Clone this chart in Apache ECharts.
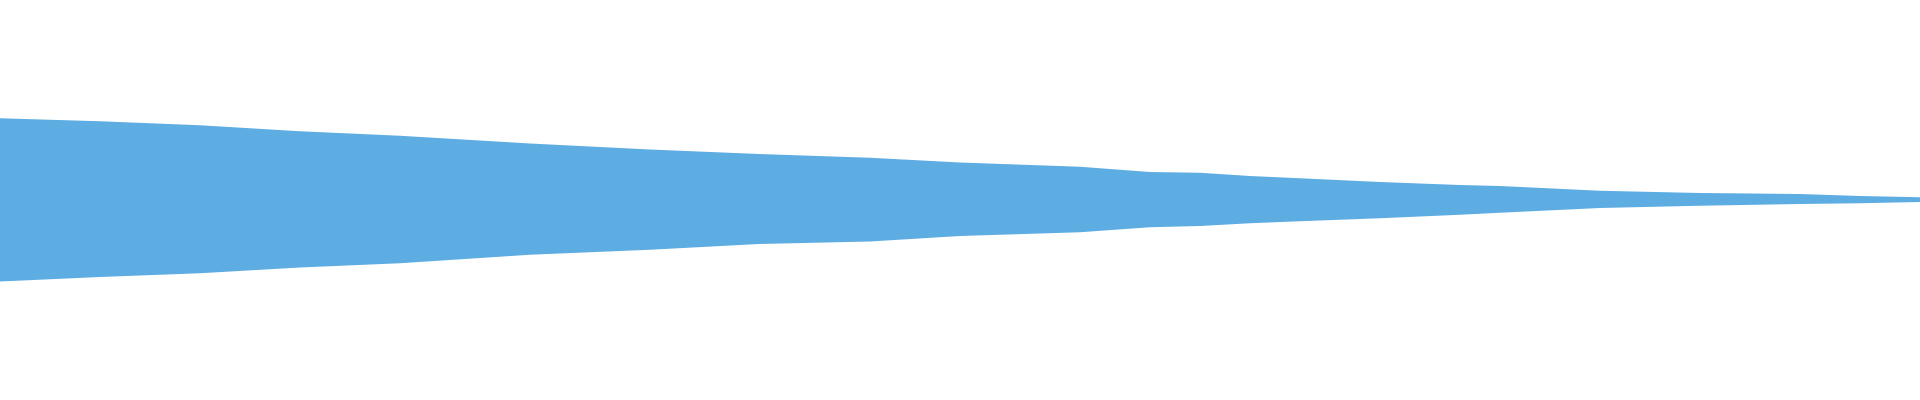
<!DOCTYPE html>
<html>
<head>
<meta charset="utf-8">
<script src="https://cdn.jsdelivr.net/npm/echarts@6/dist/echarts.min.js"></script>
<style>
html,body{margin:0;padding:0;background:#fff;}
#chart{width:1920px;height:400px;}
</style>
</head>
<body>
<div id="chart"></div>
<script>
// Sample positions along the waveform and its read upper / lower envelope
var xs    = [0, 100, 200, 300, 400, 530, 650, 759, 870, 960, 1080, 1150, 1200, 1250, 1300, 1380, 1460, 1500, 1600, 1700, 1800, 1860, 1920];
var upper = [81.5, 78.5, 74.5, 68.5, 63.8, 56.2, 50.2, 45.5, 41.8, 37.2, 32.8, 27.5, 26.8, 23.5, 21.2, 17.5, 14.5, 13.5, 8.8, 6.5, 5.5, 3.5, 2.2];
var lower = [-82.2, -77.8, -74, -68.2, -63.8, -55.5, -50.5, -44.5, -42.2, -36.5, -32.8, -27.8, -26.5, -23.8, -21.8, -18.8, -15.2, -13.2, -8.5, -6.2, -4.5, -3.8, -2.5];

var color = '#5dade2';
function pairs(v){ return xs.map(function(x,i){ return [x, v[i]]; }); }

var chart = echarts.init(document.getElementById('chart'));
chart.setOption({
  animation: false,
  backgroundColor: '#ffffff',
  grid: {left: 0, right: 0, top: 0, bottom: 1},
  xAxis: {type: 'value', min: 0, max: 1920, show: false},
  yAxis: {type: 'value', min: -200, max: 200, show: false},
  series: [
    // waveform band: filled from the upper envelope down to the bottom of the plot
    {type: 'line', z: 2, data: pairs(upper), symbol: 'none', lineStyle: {width: 0}, areaStyle: {color: color, opacity: 1, origin: 'start'}, itemStyle: {color: color}},
    // region below the lower envelope left as background
    {type: 'line', z: 3, data: pairs(lower), symbol: 'none', lineStyle: {width: 0}, areaStyle: {color: '#ffffff', opacity: 1, origin: 'start'}, itemStyle: {color: '#ffffff'}}
  ]
});
</script>
</body>
</html>
